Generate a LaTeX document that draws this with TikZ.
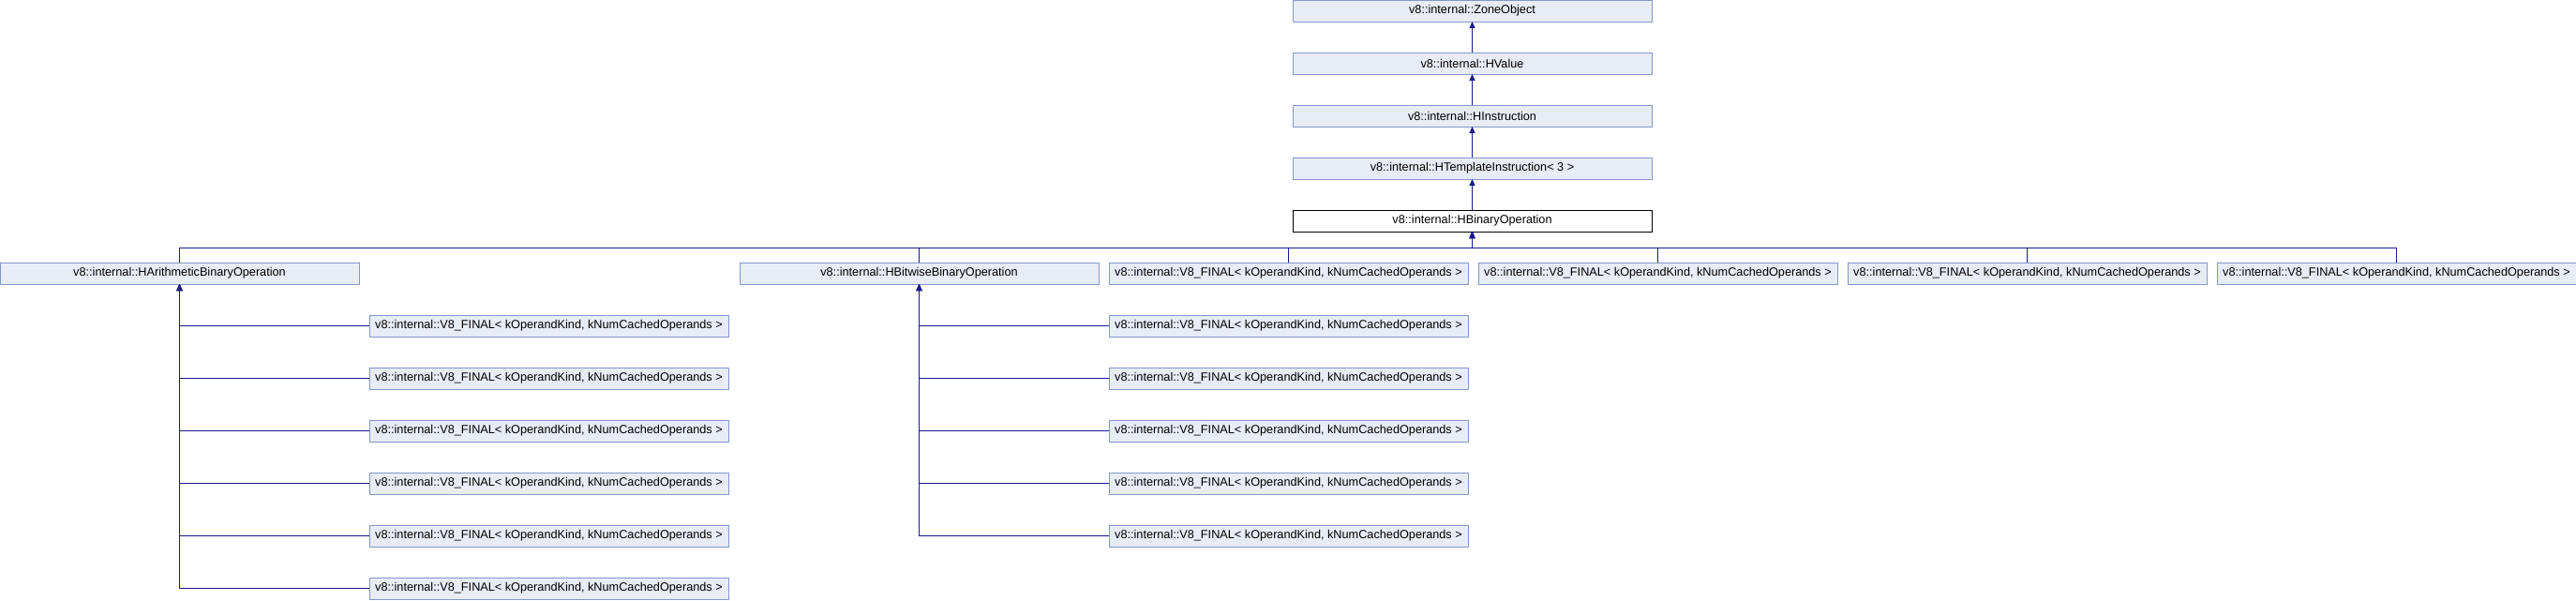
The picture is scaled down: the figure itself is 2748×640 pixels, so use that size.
\documentclass[tikz,border=0pt]{standalone}
\usepackage{fontspec}
\setmainfont{Liberation Sans}
\usetikzlibrary{positioning, arrows.meta}

\definecolor{clsfill}{HTML}{E8ECF5}
\definecolor{clsline}{HTML}{8497C9}
\definecolor{inhline}{HTML}{1A1A8C}

\newcommand{\finalname}{v8::internal::V8\_FINAL< kOperandKind, kNumCachedOperands >}

\begin{document}
\begin{tikzpicture}[x=1pt, y=1pt,
      cls/.style={rectangle, draw=clsline, fill=clsfill, line width=1pt,
                  minimum width=383pt, minimum height=23pt,
                  inner sep=0pt, outer sep=0pt,
                  font=\fontsize{12.7}{14}\selectfont},
      cur/.style={cls, draw=black, fill=white},
      inh/.style={draw=inhline, line width=1pt,
                  -{Triangle[length=7pt,width=6pt]}},
    ]

    \useasboundingbox (0,0) rectangle (2748,-640);

    % ---- base chain ------------------------------------------------
    \node[cls, anchor=north west] (zone) at (1379,0) {v8::internal::ZoneObject};
    \node[cls, below=33pt of zone] (hval) {v8::internal::HValue};
    \node[cls, below=33pt of hval] (hins) {v8::internal::HInstruction};
    \node[cls, below=33pt of hins] (htpl) {v8::internal::HTemplateInstruction< 3 >};
    \node[cur, below=33pt of htpl] (hbin) {v8::internal::HBinaryOperation};
    \coordinate[below=17pt of hbin] (bus);

    % ---- direct subclasses -----------------------------------------
    \node[cls, anchor=north west] (arith) at (0,-280)
      {v8::internal::HArithmeticBinaryOperation};
    \node[cls, anchor=north west] (bitw) at (789,-280)
      {v8::internal::HBitwiseBinaryOperation};
    \node[cls, right=11pt of bitw] (f1) {\finalname};
    \node[cls, right=11pt of f1] (f2) {\finalname};
    \node[cls, right=11pt of f2] (f3) {\finalname};
    \node[cls, right=11pt of f3] (f4) {\finalname};

    % ---- arithmetic subclasses -------------------------------------
    \node[cls, anchor=north west] (a1) at (394,-336) {\finalname};
    \node[cls, below=33pt of a1] (a2) {\finalname};
    \node[cls, below=33pt of a2] (a3) {\finalname};
    \node[cls, below=33pt of a3] (a4) {\finalname};
    \node[cls, below=33pt of a4] (a5) {\finalname};
    \node[cls, below=33pt of a5] (a6) {\finalname};

    % ---- bitwise subclasses ----------------------------------------
    \node[cls, anchor=north west] (b1) at (1183,-336) {\finalname};
    \node[cls, below=33pt of b1] (b2) {\finalname};
    \node[cls, below=33pt of b2] (b3) {\finalname};
    \node[cls, below=33pt of b3] (b4) {\finalname};
    \node[cls, below=33pt of b4] (b5) {\finalname};

    % ---- inheritance -----------------------------------------------
    \draw[inh] (hval) -- (zone);
    \draw[inh] (hins) -- (hval);
    \draw[inh] (htpl) -- (hins);
    \draw[inh] (hbin) -- (htpl);

    \draw[inh] (arith.north) |- (bus) -- (hbin.south);
    \draw[inh] (bitw.north) |- (bus) -- (hbin.south);
    \draw[inh] (f1.north) |- (bus) -- (hbin.south);
    \draw[inh] (f2.north) |- (bus) -- (hbin.south);
    \draw[inh] (f3.north) |- (bus) -- (hbin.south);
    \draw[inh] (f4.north) |- (bus) -- (hbin.south);

    \draw[inh] (a1.west) -| (arith.south);
    \draw[inh] (a2.west) -| (arith.south);
    \draw[inh] (a3.west) -| (arith.south);
    \draw[inh] (a4.west) -| (arith.south);
    \draw[inh] (a5.west) -| (arith.south);
    \draw[inh] (a6.west) -| (arith.south);

    \draw[inh] (b1.west) -| (bitw.south);
    \draw[inh] (b2.west) -| (bitw.south);
    \draw[inh] (b3.west) -| (bitw.south);
    \draw[inh] (b4.west) -| (bitw.south);
    \draw[inh] (b5.west) -| (bitw.south);

  \end{tikzpicture}
\end{document}
